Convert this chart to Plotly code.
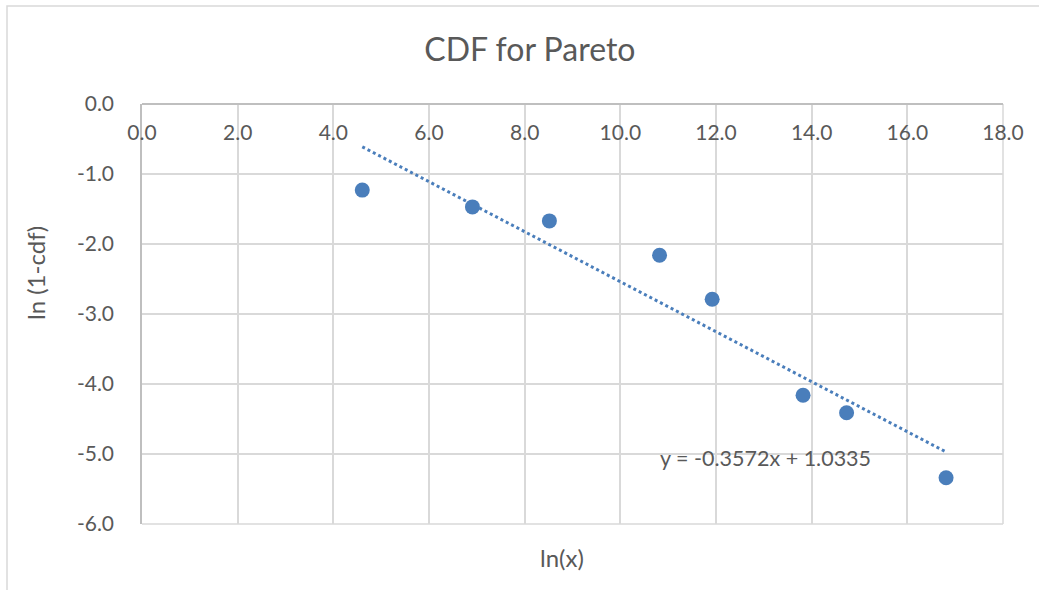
import plotly.graph_objects as go

# data
ln_x = [4.605, 6.908, 8.517, 10.82, 11.92, 13.82, 14.73, 16.81]
ln_1_cdf = [-1.23, -1.47, -1.67, -2.16, -2.79, -4.16, -4.41, -5.34]
slope = -0.3572
intercept = 1.0335
x_ticks = [0, 2, 4, 6, 8, 10, 12, 14, 16, 18]
x_tick_labels = ["0.0", "2.0", "4.0", "6.0", "8.0", "10.0", "12.0", "14.0", "16.0", "18.0"]
y_ticks = [0, -1, -2, -3, -4, -5, -6]
y_tick_labels = ["0.0", "-1.0", "-2.0", "-3.0", "-4.0", "-5.0", "-6.0"]

blue = "#4a7ebb"
txt = "#595959"
grid = "#d9d9d9"
font = "Lato"

x0, x1 = min(ln_x), max(ln_x)
trend_x = [x0, x1]
trend_y = [slope * v + intercept for v in trend_x]

fig = go.Figure()
fig.add_trace(go.Scatter(x=trend_x, y=trend_y, mode="lines",
                         line=dict(color=blue, width=3, dash="dot"),
                         hoverinfo="skip", showlegend=False))
fig.add_trace(go.Scatter(x=ln_x, y=ln_1_cdf, mode="markers",
                         marker=dict(color=blue, size=15),
                         showlegend=False))

W, H = 1039, 590
L, R, T, B = 142, 36, 104, 66
pw, ph = W - L - R, H - T - B

fig.update_layout(
    width=W, height=H,
    margin=dict(l=L, r=R, t=T, b=B),
    paper_bgcolor="white", plot_bgcolor="white",
    font=dict(family=font, color=txt, size=21),
    title=dict(text="CDF for Pareto", x=0.51, xanchor="center", y=1 - 50 / H,
               yanchor="middle", font=dict(size=32, color=txt, family=font)),
    xaxis=dict(range=[0, 18], tickvals=x_ticks, ticktext=x_tick_labels,
               side="bottom", anchor="free", position=1, ticklabelstandoff=10,
               showgrid=True, gridcolor=grid, gridwidth=1.5,
               showline=True, linecolor="#bfbfbf", linewidth=1.5,
               zeroline=False, ticks="", fixedrange=True, automargin=False),
    yaxis=dict(range=[-6, 0], tickvals=y_ticks, ticktext=y_tick_labels,
               ticklabelstandoff=22,
               showgrid=True, gridcolor=grid, gridwidth=1.5,
               showline=True, linecolor="#bfbfbf", linewidth=1.5,
               zeroline=False, ticks="", fixedrange=True, automargin=False),
    annotations=[
        dict(text="ln(x)", xref="paper", yref="paper",
             x=(562 - L) / pw, y=-(557 - (T + ph)) / ph,
             showarrow=False, font=dict(size=24, color=txt),
             xanchor="center", yanchor="middle"),
        dict(text="ln (1-cdf)", xref="paper", yref="paper",
             x=(35 - L) / pw, y=1 - (273 - T) / ph, textangle=-90,
             showarrow=False, font=dict(size=24, color=txt),
             xanchor="center", yanchor="middle"),
        dict(text="y = -0.3572x + 1.0335", xref="paper", yref="paper",
             x=(765 - L) / pw, y=1 - (458 - T) / ph,
             showarrow=False, font=dict(size=21.5, color=txt),
             xanchor="center", yanchor="middle"),
    ],
    shapes=[
        dict(type="rect", xref="paper", yref="paper",
             x0=(7 - L) / pw, x1=(W + 10 - L) / pw,
             y0=1 - (H + 10 - T) / ph, y1=1 + (T - 6) / ph,
             line=dict(color=grid, width=1.5), layer="below"),
        # plot-area frame: bottom and right edges (grid colour)
        dict(type="line", xref="paper", yref="paper", x0=0, x1=1, y0=0, y1=0,
             line=dict(color=grid, width=1.5), layer="below"),
        dict(type="line", xref="paper", yref="paper", x0=1, x1=1, y0=0, y1=1,
             line=dict(color=grid, width=1.5), layer="below"),
    ],
)

fig.write_html("out.html", config={"displayModeBar": False},
               post_script="document.body.style.margin='0px';")
